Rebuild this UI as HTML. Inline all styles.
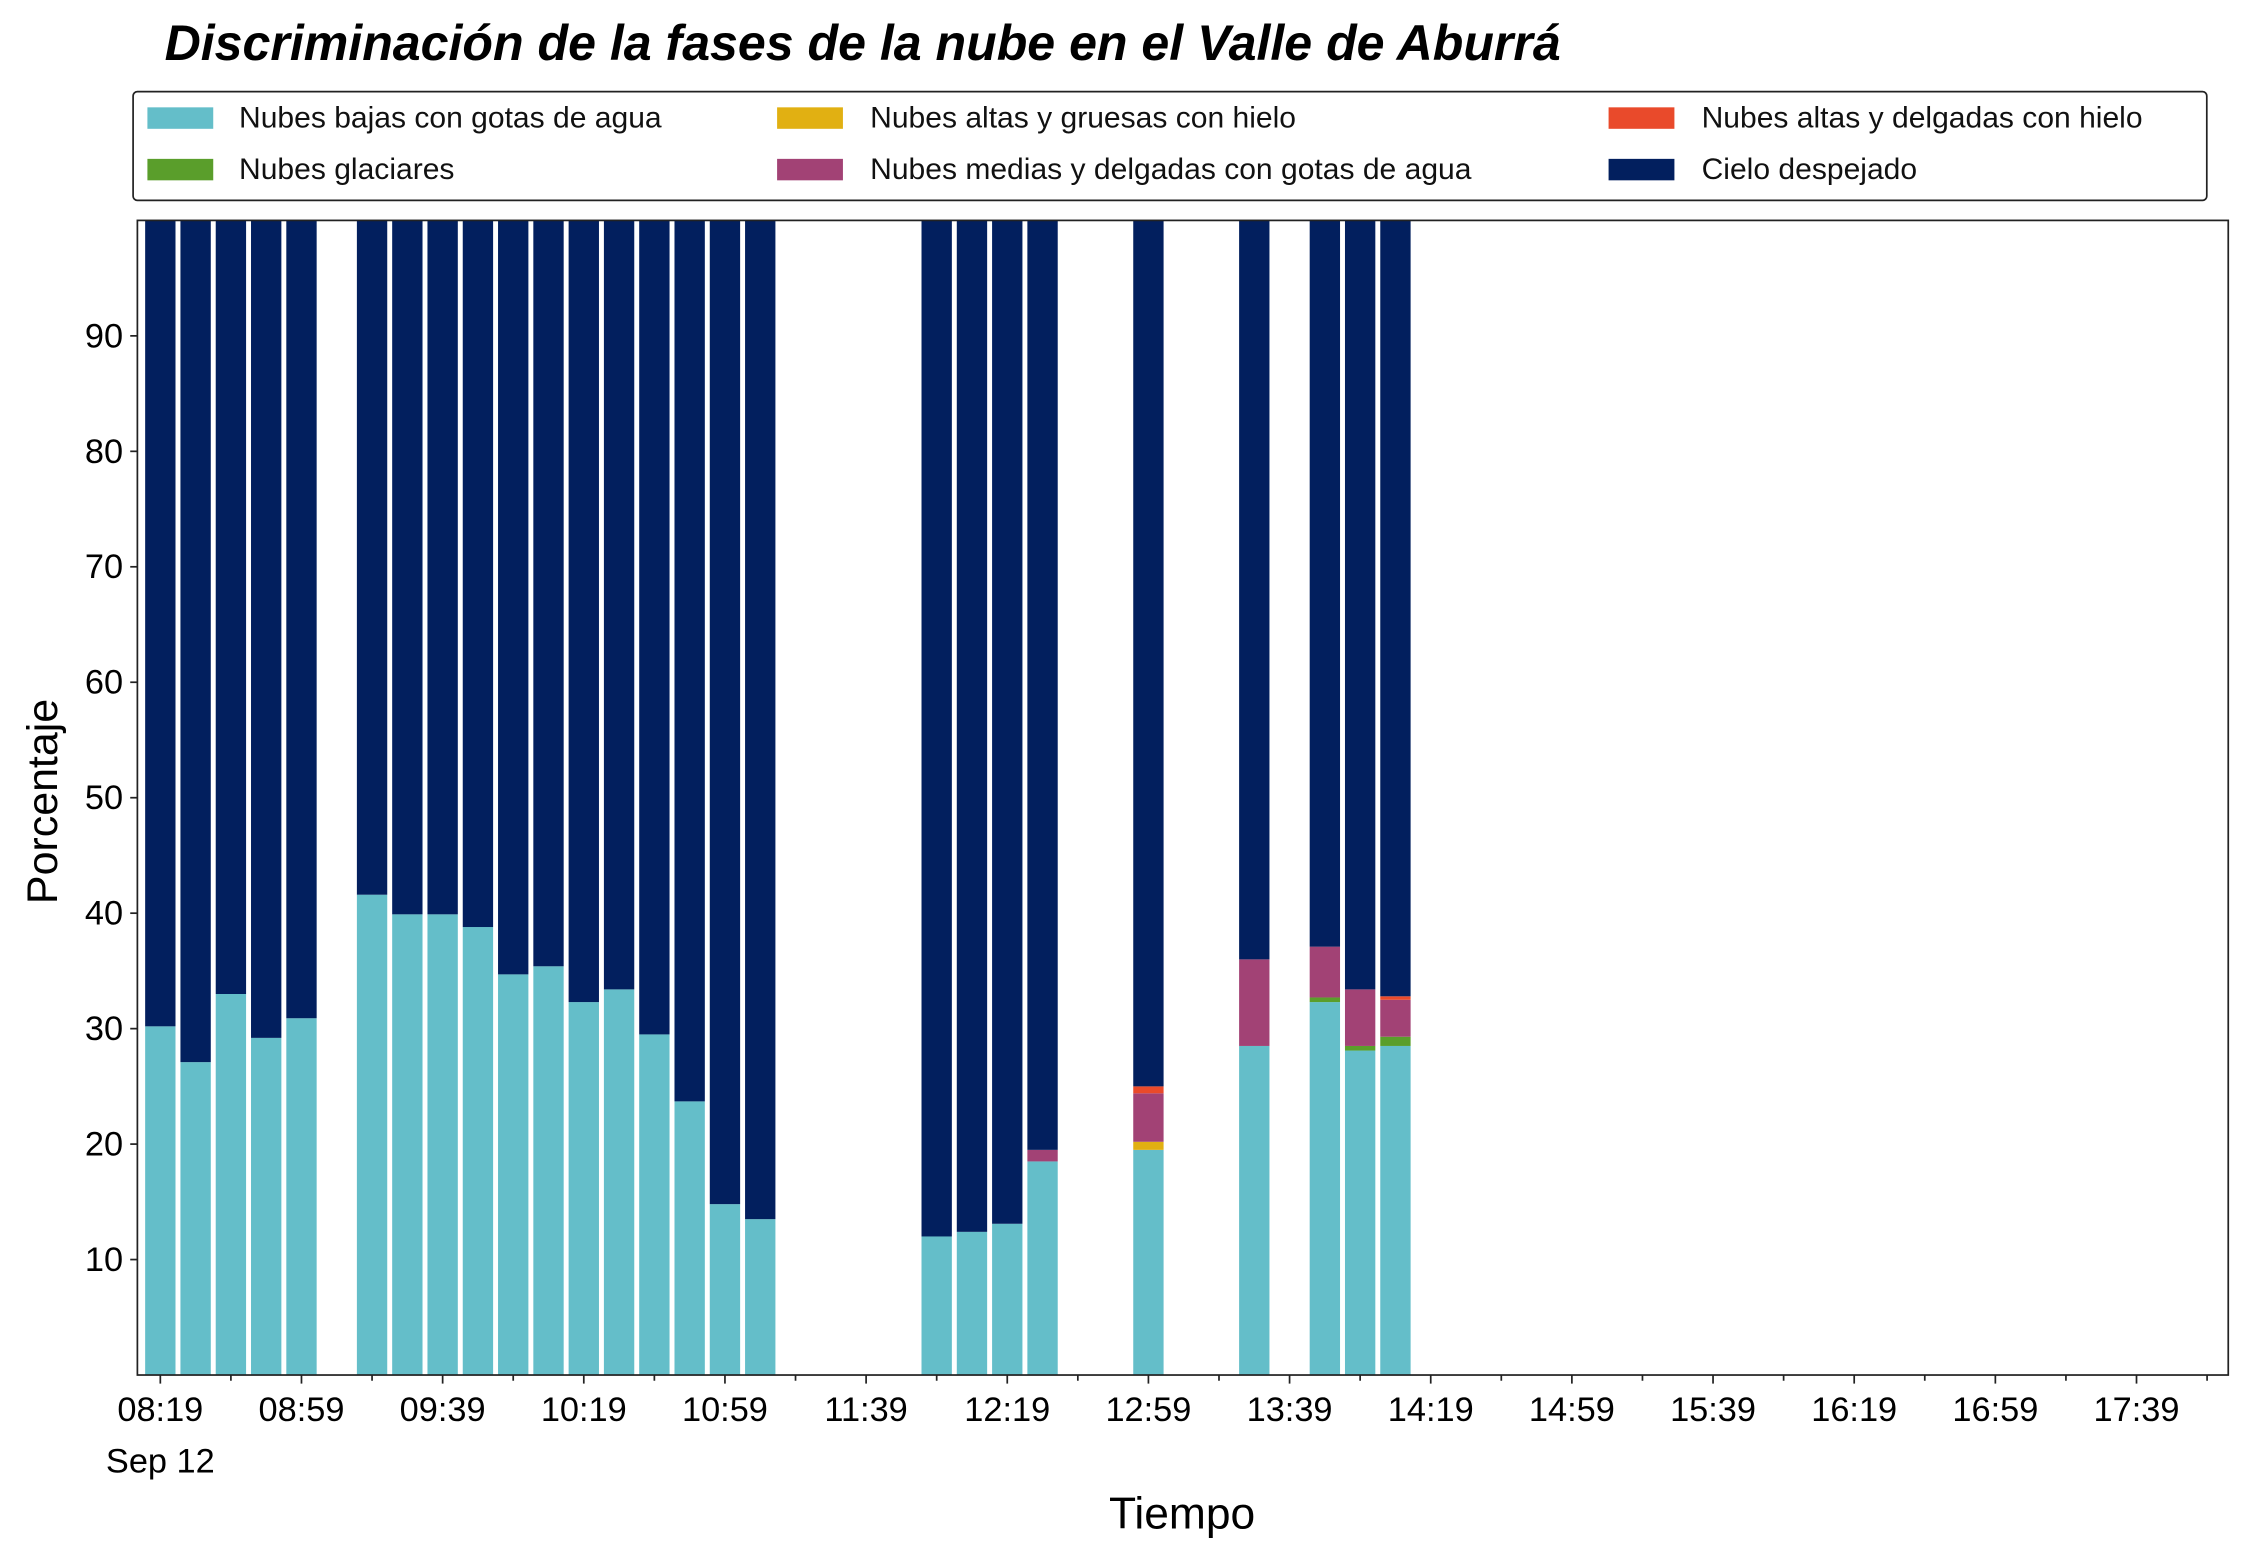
<!DOCTYPE html>
<html><head><meta charset="utf-8"><style>
html,body{margin:0;padding:0;background:#fff}
svg{display:block;font-family:"Liberation Sans",sans-serif}
</style></head><body>
<svg id="chart" width="2244" height="1559" viewBox="0 0 1568 1089.3" preserveAspectRatio="none" xmlns="http://www.w3.org/2000/svg">
<text x="115" y="42" font-size="35" font-weight="bold" font-style="italic">Discriminación de la fases de la nube en el Valle de Aburrá</text>
<g>
<rect x="93" y="64" width="1449" height="76" rx="3" fill="#fff" stroke="#222" stroke-width="1.2"/>
<g font-size="21" fill="#111">
<rect x="103" y="75" width="46" height="15" fill="#64bec9"/><text x="167" y="89">Nubes bajas con gotas de agua</text>
<rect x="103" y="111" width="46" height="15" fill="#5a9e2b"/><text x="167" y="125">Nubes glaciares</text>
<rect x="543" y="75" width="46" height="15" fill="#e1b012"/><text x="608" y="89">Nubes altas y gruesas con hielo</text>
<rect x="543" y="111" width="46" height="15" fill="#a24275"/><text x="608" y="125">Nubes medias y delgadas con gotas de agua</text>
<rect x="1124" y="75" width="46" height="15" fill="#e94a2b"/><text x="1189" y="89">Nubes altas y delgadas con hielo</text>
<rect x="1124" y="111" width="46" height="15" fill="#021f5e"/><text x="1189" y="125">Cielo despejado</text>
</g></g>
<g id="bars"></g>
<g id="axes"></g>
<text transform="translate(40,560) rotate(-90)" text-anchor="middle" font-size="30">Porcentaje</text>
<text x="826" y="1068" text-anchor="middle" font-size="31">Tiempo</text>
</svg>
<script>
// minutes after 08:19 on Sep 12
const times = [0,10,20,30,40,60,70,80,90,100,110,120,130,140,150,160,170,220,230,240,250,280,310,330,340,350];
const lowWater = [30.2,27.1,33.0,29.2,30.9,41.6,39.9,39.9,38.8,34.7,35.4,32.3,33.4,29.5,23.7,14.8,13.5,12.0,12.4,13.1,18.5,19.5,28.5,32.3,28.1,28.5];
const glacial  = [0,0,0,0,0,0,0,0,0,0,0,0,0,0,0,0,0,0,0,0,0,0,0,0.4,0.4,0.8];
const highThick= [0,0,0,0,0,0,0,0,0,0,0,0,0,0,0,0,0,0,0,0,0,0.7,0,0,0,0];
const midThin  = [0,0,0,0,0,0,0,0,0,0,0,0,0,0,0,0,0,0,0,0,1.0,4.2,7.5,4.4,4.9,3.2];
const highThin = [0,0,0,0,0,0,0,0,0,0,0,0,0,0,0,0,0,0,0,0,0,0.6,0,0,0,0.3];
const yTicks = [10,20,30,40,50,60,70,80,90];
const xTickLabels = ["08:19","08:59","09:39","10:19","10:59","11:39","12:19","12:59","13:39","14:19","14:59","15:39","16:19","16:59","17:39"];

const NS="http://www.w3.org/2000/svg";
const L=96,R=1557,T=154,B=960.75;
const xMin=-6.5,xMax=586;
const X=m=>L+(m-xMin)/(xMax-xMin)*(R-L);
const Y=v=>B-v/100*(B-T);
const barW=8.6;
function mk(tag,attrs,parent){const e=document.createElementNS(NS,tag);for(const k in attrs)e.setAttribute(k,attrs[k]);parent.appendChild(e);return e;}
const bars=document.getElementById('bars');
const series=[[lowWater,'#64bec9','low-water'],[glacial,'#5a9e2b','glacial'],[highThick,'#e1b012','high-thick'],[midThin,'#a24275','mid-thin'],[highThin,'#e94a2b','high-thin']];
times.forEach((t,i)=>{
  let base=0;
  const x0=X(t-barW/2),w=X(t+barW/2)-x0;
  series.forEach(([arr,col,nm])=>{
    const v=arr[i]; if(!v) return;
    const r=mk('rect',{x:x0,y:Y(base+v),width:w,height:Y(base)-Y(base+v),fill:col},bars);
    
    
    base+=v;
  });
  const r=mk('rect',{x:x0,y:Y(100),width:w,height:Y(base)-Y(100),fill:'#021f5e'},bars);
  
  
});
const ax=document.getElementById('axes');
const frame=mk('rect',{x:L,y:T,width:R-L,height:B-T,fill:'none',stroke:'#222','stroke-width':1.2},ax);


yTicks.forEach(v=>{
  mk('line',{x1:L-5,x2:L,y1:Y(v),y2:Y(v),stroke:'#222','stroke-width':1.2},ax);
  const tx=mk('text',{x:L-10,y:Y(v)+8,'text-anchor':'end','font-size':24},ax);
  tx.textContent=v;
  
  
});
for(let m=0;m<=xMax;m+=20){
  const major=m%40===0;
  mk('line',{x1:X(m),x2:X(m),y1:B,y2:B+(major?6:4),stroke:'#222','stroke-width':1.2},ax);
}
xTickLabels.forEach((s,i)=>{
  const tx=mk('text',{x:X(i*40),y:B+32,'text-anchor':'middle','font-size':24},ax);
  tx.textContent=s;
  
  
});
const d=mk('text',{x:X(0),y:B+68,'text-anchor':'middle','font-size':24},ax);
d.textContent='Sep 12';


</script>
</body></html>
